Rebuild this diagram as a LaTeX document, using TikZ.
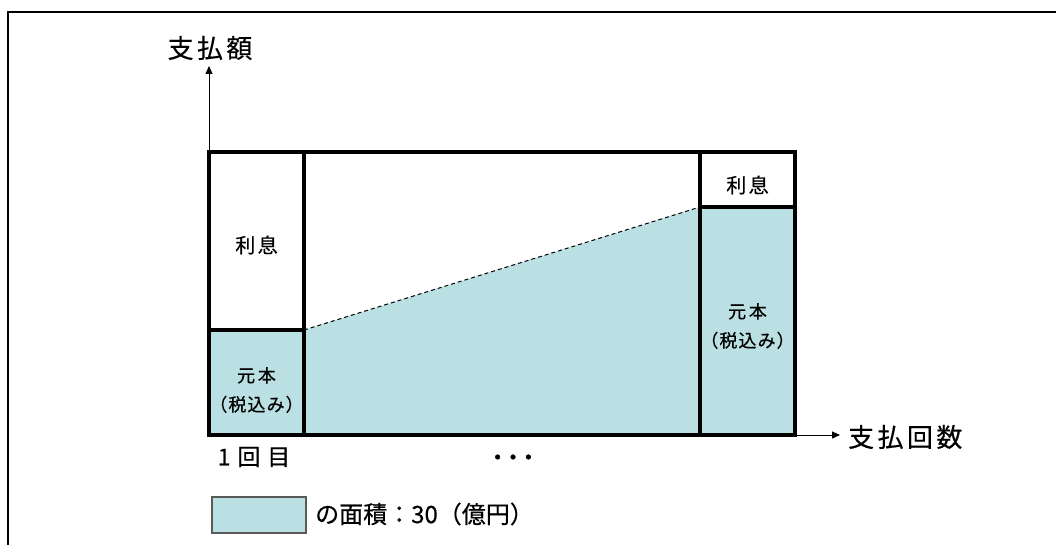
\documentclass[tikz,border=0pt]{standalone}
\usepackage{fontspec}
\setmainfont[FakeBold=0.4]{Noto Sans CJK JP}
\usetikzlibrary{arrows.meta,backgrounds}
\definecolor{tealfill}{RGB}{187,224,227}
\definecolor{legbd}{RGB}{90,90,90}
\begin{document}
\begin{tikzpicture}[x=1pt,y=-1pt,
  frame/.style={draw=black,line width=2.2pt},
  cell/.style={draw=black,line width=3.6pt,inner sep=0pt,outer sep=0pt,minimum width=95pt},
  midcell/.style={draw=black,line width=3.6pt,inner sep=0pt,outer sep=0pt},
  prin/.style={fill=tealfill},
  axis/.style={draw=black,line width=1pt,-{Triangle[length=8pt,width=7pt]}},
  guide/.style={draw=black,line width=1pt,dash pattern=on 4pt off 3pt},
  axislab/.style={font=\fontsize{26}{30}\selectfont\addfontfeature{LetterSpace=13},inner sep=0pt},
  celltext/.style={font=\fontsize{20}{24}\selectfont\addfontfeature{LetterSpace=12},inner sep=0pt},
  printext/.style={font=\fontsize{18}{29}\selectfont\addfontfeature{LetterSpace=6},align=center,inner sep=0pt},
  countlab/.style={font=\fontsize{23}{27}\selectfont\addfontfeature{LetterSpace=30},inner sep=0pt},
  dotslab/.style={font=\fontsize{22}{24}\selectfont\addfontfeature{FakeBold=2,LetterSpace=-30},inner sep=0pt},
  legbox/.style={draw=legbd,line width=1.3pt,fill=tealfill,minimum width=94pt,minimum height=36pt,inner sep=0pt},
  legtext/.style={font=\fontsize{24}{28}\selectfont,inner sep=0pt,anchor=west}
]
\useasboundingbox (0,0) rectangle (1056,545);
% outer frame (cut by the picture edge)
\draw[frame] (8,546) -- (8,12) -- (1057,12);

% cells
\node[cell,minimum height=178pt] (int1) at (256.5,241) {};
\node[cell,prin,minimum height=105pt] (prin1) at (256.5,382.5) {};
\node[cell,minimum height=55pt] (int2) at (747.5,179.5) {};
\node[cell,prin,minimum height=228pt] (prin2) at (747.5,321) {};
\node[midcell,minimum width=396pt,minimum height=283pt] (mid) at (502,293.5) {};

% shaded area between the payments
\begin{scope}[on background layer]
  \fill[tealfill] (prin1.north east) -- (prin2.north west) -- (prin2.south west) -- (prin1.south east) -- cycle;
\end{scope}
\draw[guide] (prin1.north east) -- (prin2.north west);

% texts in cells
\node[celltext] (t1) at (256.5,245) {利息};
\node[printext] (p1) at (256.5,390) {{\addfontfeature{LetterSpace=15}元本}\\（税込み）};
\node[celltext] (t2) at (747.5,185) {利息};
\node[printext] (p2) at (747.5,326) {{\addfontfeature{LetterSpace=15}元本}\\（税込み）};

% axes
\coordinate (ytip) at (209,66);
\coordinate (xtip) at (840,435);
\draw[axis] (int1.north west) -- (ytip);
\draw[axis] (prin2.south east) -- (xtip);
\node[axislab] (ylab) at (210,48) {支払額};
\node[axislab,anchor=west] (xlab) at (848,437) {支払回数};

% bottom labels
\node[countlab] (first) at (254,457) {1回目};
\node[dotslab] (dots) at (513,460) {・・・};

% legend
\node[legbox] (leg) at (259,515) {};
\node[legtext] (legt) at (315,514) {の面積：30（億円）};
\end{tikzpicture}
\end{document}
